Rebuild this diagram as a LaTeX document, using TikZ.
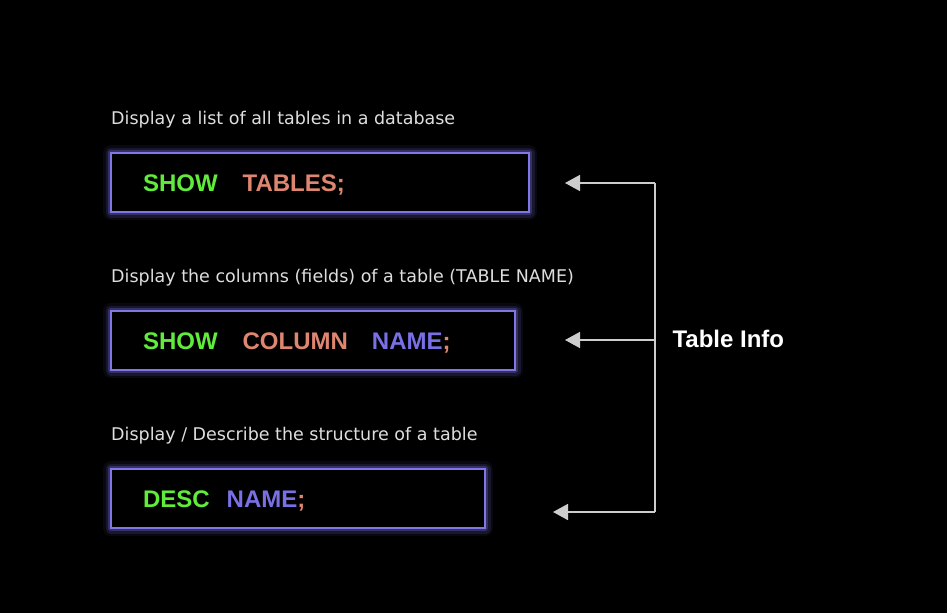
\documentclass[tikz,border=0pt]{standalone}
\usepackage{fontspec}
\setmainfont{Liberation Sans}
\newfontfamily\capfont{DejaVu Sans}
\usetikzlibrary{positioning,arrows.meta}
\definecolor{kwgreen}{RGB}{96,236,58}
\definecolor{kwsalmon}{RGB}{222,134,112}
\definecolor{kwblue}{RGB}{122,112,230}
\definecolor{boxline}{RGB}{128,118,232}
\definecolor{capgray}{RGB}{222,222,222}
\definecolor{wiregray}{RGB}{205,205,205}

\begin{document}
\begin{tikzpicture}[x=1pt,y=-1pt,
    codebox/.style={draw=boxline, line width=2.5pt, fill=black, anchor=north west,
      outer sep=0pt, minimum height=59pt, inner xsep=32pt, align=left,
      text height=17.2pt, text depth=0pt,
      font=\fontsize{24}{28}\selectfont\bfseries,
      preaction={draw=boxline, line width=16pt, opacity=.07, line join=round},
      preaction={draw=boxline, line width=11pt, opacity=.14, line join=round},
      preaction={draw=boxline, line width=6.5pt, opacity=.28, line join=round}},
    caption/.style={text=capgray, anchor=base west, inner sep=0pt,
      font=\capfont\fontsize{17.5}{20}\selectfont},
    wire/.style={draw=wiregray, line width=1.6pt},
    pointer/.style={wire, -{Triangle[length=15pt,width=16pt]}}]
    % background
    \fill[black] (0,0) rectangle (947,613);
    % command boxes
    \node [codebox, text width=354pt] (show) at (111,153)
      {\textcolor{kwgreen}{SHOW}\hspace{25pt}\textcolor{kwsalmon}{TABLES;}};
    \node [codebox, text width=340pt] (column) at (111,311)
      {\textcolor{kwgreen}{SHOW}\hspace{25pt}\textcolor{kwsalmon}{COLUMN}\hspace{24pt}\textcolor{kwblue}{NAME}\textcolor{kwsalmon}{;}};
    \node [codebox, text width=310pt] (desc) at (111,469)
      {\textcolor{kwgreen}{DESC}\hspace{17pt}\textcolor{kwblue}{NAME}\textcolor{kwsalmon}{;}};
    % captions
    \node [caption] (capshow) at (111,124.5) {Display a list of all tables in a database};
    \node [caption] (capcolumn) at (111,282.5) {Display the columns (fields) of a table (TABLE NAME)};
    \node [caption] (capdesc) at (111,440.5) {Display / Describe the structure of a table};
    % bracket
    \coordinate (tipshow) at (565,183);
    \coordinate (tipcolumn) at (565,340);
    \coordinate (tipdesc) at (553,512);
    \coordinate (jshow) at (655,183);
    \coordinate (jcolumn) at (655,340);
    \coordinate (jdesc) at (655,512);
    \node [anchor=west, text=white, font=\fontsize{24}{28}\selectfont\bfseries] (info) at (669,339) {Table Info};
    \draw [wire] (jshow) -- (jdesc);
    \draw [pointer] (jshow) -- (tipshow);
    \draw [pointer] (jcolumn) -- (tipcolumn);
    \draw [pointer] (jdesc) -- (tipdesc);
\end{tikzpicture}
\end{document}
